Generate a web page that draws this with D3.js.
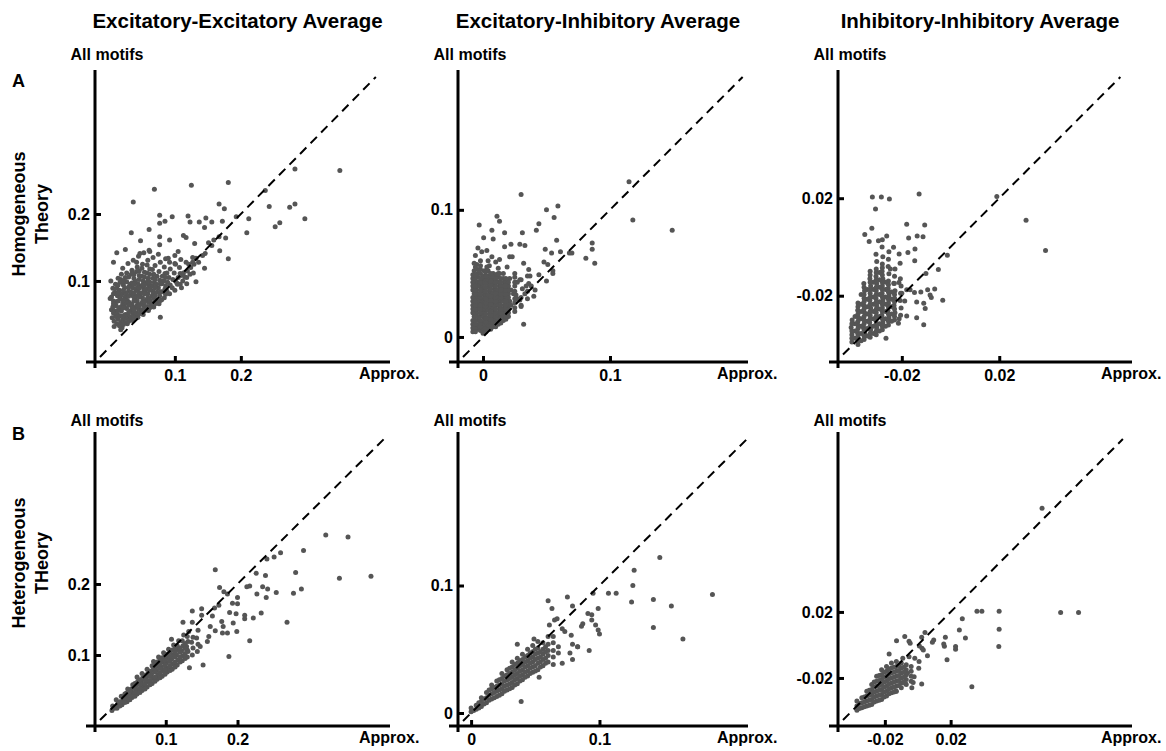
<!DOCTYPE html>
<html>
<head>
<meta charset="utf-8">
<script src="https://cdn.jsdelivr.net/npm/d3@7"></script>
<style>
  body { margin: 0; background: #fff; }
  svg text { font-family: Arial, "Liberation Sans", Helvetica, sans-serif; font-weight: bold; fill: #000; }
</style>
</head>
<body>
<svg id="chart" width="1166" height="751"></svg>
<script>

/*** data: [approx., all motifs] pairs ***/

var columnTitles = ['Excitatory-Excitatory Average', 'Excitatory-Inhibitory Average', 'Inhibitory-Inhibitory Average'];
var rowLetters = ['A', 'B'];
var rowTitles = [['Homogeneous', 'Theory'], ['Heterogeneous', 'THeory']];
var xLabel = 'Approx.';
var yLabel = 'All motifs';

// tick values, one set per column (same on both axes)
var eeTicks = [0.1, 0.2];
var eiTicks = [0, 0.1];
var iiTicks = [-0.02, 0.02];

// axis extents per panel
var eeHomXDomain = [-0.021, 0.426], eeHomYDomain = [-0.021, 0.415];
var eiHomXDomain = [-0.0197, 0.2087], eiHomYDomain = [-0.0197, 0.21];
var iiHomXDomain = [-0.0462, 0.0745], iiHomYDomain = [-0.0472, 0.0726];
var eeHetXDomain = [0.0014, 0.4125], eeHetYDomain = [0, 0.414];
var eiHetXDomain = [-0.0102, 0.2157], eiHetYDomain = [-0.0102, 0.2204];
var iiHetXDomain = [-0.0485, 0.1303], iiHetYDomain = [-0.0491, 0.129];

var eeHomogeneous = [
  [0.350,0.265],[0.282,0.267],[0.181,0.247],[0.125,0.243],[0.069,0.237],[0.037,0.218],[0.237,0.235],[0.243,0.211],
  [0.274,0.210],[0.282,0.215],[0.297,0.193],[0.252,0.181],[0.259,0.187],[0.209,0.172],[0.212,0.193],[0.193,0.196],
  [0.167,0.215],[0.175,0.208],[0.172,0.189],[0.181,0.133],[0.168,0.145],[0.177,0.164],[0.167,0.166],[0.156,0.188],
  [0.147,0.194],[0.137,0.188],[0.145,0.180],[0.120,0.197],[0.123,0.188],[0.096,0.196],[0.077,0.198],[0.085,0.189],
  [0.077,0.186],[0.061,0.177],[0.034,0.172],[0.048,0.160],[0.077,0.166],[0.092,0.161],[0.113,0.168],[0.117,0.165],
  [0.130,0.156],[0.151,0.157],[0.159,0.161],[0.156,0.153],[0.146,0.141],[0.142,0.138],[0.136,0.128],[0.145,0.119],
  [0.132,0.134],[0.127,0.128],[0.121,0.125],[0.132,0.099],[0.118,0.096],[0.110,0.090],[0.103,0.097],[0.078,0.046],
  [0.012,0.142],[0.025,0.147],[0.007,0.128],[0.003,0.100],[0.002,0.074],[0.004,0.057],[0.008,0.032],[0.018,0.027],
  [0.105,0.144],[0.077,0.154],[0.062,0.144],[0.047,0.141],[0.090,0.134],[0.100,0.126],[0.108,0.111],[0.115,0.106],
  [0.005,0.045],[0.006,0.061],[0.004,0.076],[0.006,0.089],
  [0.012,0.036],[0.013,0.050],[0.011,0.063],[0.013,0.078],[0.012,0.089],[0.014,0.104],
  [0.020,0.030],[0.021,0.043],[0.019,0.055],[0.021,0.067],[0.020,0.081],[0.022,0.094],[0.019,0.110],[0.021,0.119],
  [0.028,0.036],[0.029,0.048],[0.027,0.059],[0.028,0.071],[0.030,0.085],[0.027,0.099],[0.029,0.126],
  [0.036,0.041],[0.037,0.052],[0.035,0.065],[0.037,0.077],[0.036,0.090],[0.038,0.104],[0.035,0.116],[0.037,0.131],
  [0.044,0.046],[0.045,0.058],[0.043,0.070],[0.045,0.083],[0.044,0.096],[0.046,0.108],[0.043,0.121],[0.045,0.137],
  [0.052,0.050],[0.053,0.063],[0.051,0.075],[0.053,0.088],[0.052,0.100],[0.054,0.113],[0.051,0.125],[0.053,0.142],
  [0.060,0.056],[0.061,0.068],[0.059,0.081],[0.061,0.093],[0.060,0.104],[0.062,0.118],[0.059,0.131],[0.061,0.146],
  [0.068,0.061],[0.069,0.073],[0.067,0.085],[0.069,0.098],[0.068,0.110],[0.070,0.123],[0.067,0.135],
  [0.076,0.066],[0.077,0.078],[0.075,0.090],[0.077,0.101],[0.076,0.114],[0.078,0.128],[0.075,0.140],
  [0.084,0.075],[0.085,0.088],[0.083,0.100],[0.085,0.111],[0.084,0.121],[0.086,0.133],
  [0.092,0.081],[0.093,0.094],[0.091,0.105],[0.093,0.118],[0.092,0.128],
  [0.100,0.086],[0.101,0.100],[0.099,0.112],[0.101,0.125],[0.100,0.138],
  [0.108,0.095],[0.109,0.108],[0.107,0.120],[0.109,0.132],
  [0.118,0.105],[0.119,0.115],[0.117,0.128],
  [0.128,0.112],[0.129,0.125],[0.127,0.135],
  [0.008,0.040],[0.009,0.055],[0.007,0.070],[0.009,0.083],
  [0.016,0.033],[0.017,0.048],[0.015,0.060],[0.017,0.073],[0.016,0.086],[0.017,0.098],
  [0.024,0.038],[0.025,0.050],[0.023,0.063],[0.025,0.076],[0.024,0.090],[0.025,0.105],
  [0.032,0.042],[0.033,0.055],[0.031,0.068],[0.033,0.081],[0.032,0.095],
  [0.040,0.048],[0.041,0.061],[0.039,0.074],[0.041,0.087],[0.040,0.100],
  [0.048,0.053],[0.049,0.066],[0.047,0.079],[0.049,0.092],
  [0.056,0.059],[0.057,0.072],[0.055,0.085],[0.057,0.097],
  [0.064,0.064],[0.065,0.077],[0.063,0.090],
  [0.010,0.047],[0.011,0.069],[0.010,0.095],[0.018,0.038],[0.019,0.062],[0.018,0.078],[0.018,0.102],[0.026,0.044],
  [0.027,0.067],[0.026,0.082],[0.027,0.112],[0.034,0.047],[0.035,0.060],[0.034,0.083],[0.035,0.097],[0.034,0.110],
  [0.042,0.052],[0.043,0.064],[0.042,0.077],[0.043,0.090],[0.042,0.114],[0.042,0.128],[0.050,0.057],[0.051,0.069],
  [0.050,0.082],[0.051,0.094],[0.050,0.107],[0.050,0.119],[0.058,0.062],[0.059,0.075],[0.058,0.088],[0.059,0.100],
  [0.058,0.112],[0.058,0.124],[0.066,0.067],[0.067,0.080],[0.066,0.093],[0.067,0.104],[0.066,0.117],[0.072,0.070],
  [0.073,0.083],[0.072,0.095],[0.073,0.107],[0.080,0.072],[0.081,0.084],[0.080,0.096],[0.081,0.107],[0.088,0.085],
  [0.089,0.098],[0.088,0.112],[0.096,0.090],[0.097,0.102],[0.104,0.095],[0.105,0.105],[0.112,0.100],[0.113,0.112],
  [0.123,0.110],[0.124,0.120],
  [0.007,0.052],[0.007,0.066],[0.007,0.081],[0.014,0.043],[0.014,0.056],[0.014,0.070],[0.014,0.082],[0.014,0.094],
  [0.022,0.035],[0.022,0.048],[0.022,0.060],[0.022,0.072],[0.022,0.086],[0.022,0.100],[0.030,0.040],[0.030,0.053],
  [0.030,0.064],[0.030,0.077],[0.030,0.091],[0.030,0.106],[0.038,0.045],[0.038,0.057],[0.038,0.070],[0.038,0.082],
  [0.038,0.095],[0.038,0.110],[0.046,0.051],[0.046,0.063],[0.046,0.076],[0.046,0.089],[0.046,0.102],[0.046,0.115],
  [0.054,0.056],[0.054,0.068],[0.054,0.081],[0.054,0.094],[0.054,0.106],[0.062,0.060],[0.062,0.072],[0.062,0.086],
  [0.062,0.098],[0.062,0.110],[0.070,0.066],[0.070,0.078],[0.070,0.090],[0.070,0.103],[0.078,0.071],[0.078,0.084],
  [0.078,0.096],[0.086,0.080],[0.086,0.093],[0.086,0.105]
];

var eiHomogeneous = [
  [0.149,0.084],[0.118,0.092],[0.115,0.122],[0.030,0.112],[0.059,0.103],[0.050,0.100],[0.056,0.094],[0.044,0.089],
  [0.042,0.084],[0.031,0.082],[0.017,0.082],[0.011,0.095],[0.013,0.091],[0.007,0.084],[-0.003,0.088],[0.0005,0.078],
  [0.008,0.077],[0.022,0.073],[0.029,0.073],[0.033,0.072],[0.058,0.076],[0.049,0.069],[0.054,0.066],[0.061,0.067],
  [0.068,0.066],[0.070,0.066],[0.086,0.074],[0.086,0.069],[0.088,0.058],[0.081,0.062],[0.017,0.071],[0.021,0.063],
  [0.023,0.063],[-0.001,0.067],[0.003,0.068],[-0.006,0.064],[0.010,0.059],[0.048,0.059],[0.051,0.057],[0.055,0.052],
  [0.055,0.050],[0.044,0.049],[0.036,0.053],[0.050,0.044],[0.040,0.032],[0.030,0.024],[0.032,0.010],[-0.004,0.070],
  [0.019,0.055],[0.025,0.050],[0.029,0.045],[0.037,0.048],[0.034,0.040],[0.041,0.037],[0.024,0.034],[0.019,0.029],
  [0.029,0.029],[0.013,0.050],[0.003,0.055],[0.007,0.063],[0.013,0.061],[0.032,0.058],
  [-0.008,0.004],[-0.008,0.010],[-0.007,0.016],[-0.008,0.022],[-0.008,0.028],[-0.007,0.034],[-0.008,0.040],[-0.008,0.046],
  [-0.004,0.006],[-0.004,0.013],[-0.005,0.019],[-0.004,0.025],[-0.004,0.031],[-0.005,0.037],[-0.004,0.043],[-0.004,0.050],[-0.005,0.057],
  [0.000,0.003],[0.000,0.009],[0.001,0.015],[0.000,0.021],[0.000,0.027],[0.001,0.033],[0.000,0.039],[0.000,0.045],[0.001,0.052],
  [0.004,0.006],[0.004,0.012],[0.005,0.018],[0.004,0.024],[0.004,0.030],[0.005,0.036],[0.004,0.042],[0.004,0.048],[0.005,0.056],
  [0.008,0.008],[0.008,0.014],[0.009,0.020],[0.008,0.026],[0.008,0.032],[0.009,0.038],[0.008,0.044],[0.008,0.050],
  [0.012,0.010],[0.012,0.016],[0.013,0.022],[0.012,0.028],[0.012,0.034],[0.013,0.040],[0.012,0.047],[0.012,0.054],
  [0.016,0.013],[0.016,0.019],[0.017,0.025],[0.016,0.031],[0.016,0.037],[0.017,0.043],[0.016,0.050],
  [0.020,0.016],[0.020,0.022],[0.021,0.028],[0.020,0.034],[0.020,0.040],[0.021,0.046],
  [0.025,0.020],[0.025,0.027],[0.026,0.033],[0.025,0.040],[0.025,0.047],
  [0.030,0.025],[0.030,0.031],[0.031,0.038],[0.030,0.045],
  [0.035,0.030],[0.035,0.036],[0.036,0.042],[0.035,0.048],
  [-0.006,0.007],[-0.006,0.019],[-0.006,0.031],[-0.006,0.043],[-0.002,0.005],[-0.002,0.016],[-0.002,0.028],[-0.002,0.040],
  [-0.002,0.050],[0.002,0.009],[0.002,0.021],[0.002,0.033],[0.002,0.045],[0.006,0.011],[0.006,0.023],[0.006,0.035],
  [0.006,0.047],[0.010,0.013],[0.010,0.025],[0.010,0.037],[0.010,0.049],[0.014,0.016],[0.014,0.028],[0.014,0.040],
  [0.018,0.019],[0.018,0.031],[0.018,0.043],[0.022,0.025],[0.022,0.037],[0.027,0.030],[0.027,0.043],[0.033,0.034],
  [0.038,0.040],[-0.007,0.052],[-0.007,0.058],[-0.002,0.060],[0.004,0.060],
  [-0.008,0.007],[-0.008,0.013],[-0.008,0.019],[-0.008,0.025],[-0.008,0.031],[-0.008,0.037],[-0.008,0.043],[-0.008,0.049],
  [-0.004,0.0095],[-0.004,0.016],[-0.004,0.022],[-0.004,0.028],[-0.004,0.034],[-0.004,0.040],[-0.004,0.047],[-0.004,0.053],
  [0.000,0.006],[0.000,0.012],[0.000,0.018],[0.000,0.024],[0.000,0.030],[0.000,0.036],[0.000,0.042],[0.000,0.048],
  [0.004,0.009],[0.004,0.015],[0.004,0.021],[0.004,0.027],[0.004,0.033],[0.004,0.039],[0.004,0.045],[0.004,0.052],
  [0.008,0.011],[0.008,0.017],[0.008,0.023],[0.008,0.029],[0.008,0.035],[0.008,0.041],[0.008,0.047],
  [0.012,0.013],[0.012,0.019],[0.012,0.025],[0.012,0.031],[0.012,0.037],[0.012,0.043],[0.012,0.050],
  [0.016,0.016],[0.016,0.022],[0.016,0.028],[0.016,0.034],[0.016,0.040],[0.016,0.046],
  [0.020,0.019],[0.020,0.025],[0.020,0.031],[0.020,0.037],[0.020,0.043],
  [0.025,0.023],[0.025,0.030],[0.025,0.036],[0.025,0.043],
  [-0.006,0.004],[-0.006,0.010],[-0.006,0.013],[-0.006,0.016],[-0.006,0.022],[-0.006,0.025],[-0.006,0.028],[-0.006,0.034],
  [-0.006,0.037],[-0.006,0.040],[-0.006,0.046],[-0.006,0.049],[-0.006,0.055],
  [-0.002,0.008],[-0.002,0.011],[-0.002,0.013],[-0.002,0.019],[-0.002,0.022],[-0.002,0.025],[-0.002,0.031],[-0.002,0.034],
  [-0.002,0.037],[-0.002,0.043],[-0.002,0.046],[-0.002,0.053],[-0.002,0.056],
  [0.002,0.004],[0.002,0.006],[0.002,0.012],[0.002,0.015],[0.002,0.018],[0.002,0.024],[0.002,0.027],[0.002,0.030],
  [0.002,0.036],[0.002,0.039],[0.002,0.042],[0.002,0.048],[0.002,0.051],
  [0.006,0.006],[0.006,0.008],[0.006,0.014],[0.006,0.017],[0.006,0.020],[0.006,0.026],[0.006,0.029],[0.006,0.032],
  [0.006,0.038],[0.006,0.041],[0.006,0.044],[0.006,0.050],
  [0.010,0.008],[0.010,0.010],[0.010,0.016],[0.010,0.019],[0.010,0.022],[0.010,0.028],[0.010,0.031],[0.010,0.034],
  [0.010,0.040],[0.010,0.043],[0.010,0.046],
  [0.014,0.011],[0.014,0.013],[0.014,0.019],[0.014,0.022],[0.014,0.025],[0.014,0.031],[0.014,0.034],[0.014,0.037],
  [0.014,0.043],[0.014,0.046],
  [0.018,0.014],[0.018,0.016],[0.018,0.022],[0.018,0.025],[0.018,0.028],[0.018,0.034],[0.018,0.037],[0.018,0.040],
  [0.018,0.046]
];

var iiHomogeneous = [
  [0.039,-0.0015],[0.031,0.011],[0.019,0.0207],[-0.0129,0.0217],[-0.0321,0.0205],[-0.0284,0.0205],[-0.0251,0.0197],
  [-0.0308,0.0156],[-0.018,0.0093],[-0.0106,0.009],[-0.0323,0.0077],[-0.0352,0.0051],[-0.0262,0.0045],[-0.0172,0.0037],
  [-0.0137,0.0045],[-0.0113,0.0042],[-0.0334,0.0022],[-0.0296,0.0025],[-0.0234,-0.0001],[-0.0146,-0.0008],[-0.0211,-0.0029],
  [-0.0175,-0.0023],[-0.0147,-0.0057],[-0.0207,-0.0067],[-0.0247,-0.009],[-0.005,-0.0092],[-0.0013,-0.0034],[-0.0101,-0.0109],
  [-0.0233,-0.0149],[-0.0212,-0.0146],[-0.018,-0.0176],[-0.0166,-0.0176],[-0.0148,-0.0187],[-0.0139,-0.0226],[-0.0122,-0.0185],
  [-0.0094,-0.0176],[-0.0065,-0.0172],[-0.0079,-0.0207],[-0.011,-0.0231],[-0.0104,-0.0252],[-0.0032,-0.0219],[-0.0084,-0.0197],
  [-0.018,-0.0283],[-0.0139,-0.029],[-0.011,-0.0319],[-0.0211,-0.0295],[-0.0214,-0.0313],[-0.0265,-0.0375],[-0.0188,-0.0222],
  [-0.0231,-0.0215],[-0.02,-0.019],
  [-0.0405,-0.039],[-0.0405,-0.036],[-0.0408,-0.033],[-0.0404,-0.030],
  [-0.038,-0.040],[-0.0378,-0.0375],[-0.0382,-0.035],[-0.038,-0.032],[-0.0378,-0.029],[-0.0381,-0.026],[-0.038,-0.023],
  [-0.0355,-0.038],[-0.0353,-0.0355],[-0.0357,-0.033],[-0.0355,-0.030],[-0.0353,-0.027],[-0.0356,-0.024],[-0.0355,-0.021],[-0.0353,-0.018],[-0.0356,-0.015],
  [-0.033,-0.037],[-0.0328,-0.034],[-0.0332,-0.031],[-0.033,-0.028],[-0.0328,-0.025],[-0.0331,-0.022],[-0.033,-0.019],[-0.0328,-0.016],[-0.0331,-0.013],[-0.033,-0.010],
  [-0.0305,-0.036],[-0.0303,-0.033],[-0.0307,-0.030],[-0.0305,-0.027],[-0.0303,-0.024],[-0.0306,-0.021],[-0.0305,-0.018],[-0.0303,-0.015],[-0.0306,-0.012],[-0.0305,-0.009],[-0.0303,-0.006],[-0.0306,-0.003],
  [-0.028,-0.034],[-0.0278,-0.031],[-0.0282,-0.028],[-0.028,-0.025],[-0.0278,-0.022],[-0.0281,-0.019],[-0.028,-0.016],[-0.0278,-0.013],[-0.0281,-0.010],[-0.028,-0.007],[-0.0278,-0.004],[-0.0281,0.000],[-0.028,0.003],
  [-0.0255,-0.032],[-0.0253,-0.029],[-0.0257,-0.026],[-0.0255,-0.023],[-0.0253,-0.020],[-0.0256,-0.017],[-0.0255,-0.014],[-0.0253,-0.011],[-0.0256,-0.008],[-0.0255,-0.005],[-0.0253,-0.002],
  [-0.023,-0.030],[-0.0228,-0.027],[-0.0232,-0.024],[-0.023,-0.021],[-0.0228,-0.018],[-0.0231,-0.015],[-0.023,-0.012],[-0.0228,-0.009],
  [-0.0205,-0.028],[-0.0203,-0.025],[-0.0207,-0.022],[-0.0205,-0.019],[-0.0203,-0.016],[-0.0206,-0.013],
  [-0.0392,-0.0375],[-0.0392,-0.0345],[-0.0392,-0.0315],[-0.0392,-0.0285],[-0.0367,-0.0385],[-0.0367,-0.0355],[-0.0367,-0.0325],
  [-0.0367,-0.0295],[-0.0367,-0.0265],[-0.0367,-0.0235],[-0.0367,-0.0195],[-0.0342,-0.0365],[-0.0342,-0.0335],[-0.0342,-0.0305],
  [-0.0342,-0.0275],[-0.0342,-0.0245],[-0.0342,-0.0215],[-0.0342,-0.0175],[-0.0317,-0.0355],[-0.0317,-0.0325],[-0.0317,-0.0295],
  [-0.0317,-0.0265],[-0.0317,-0.0235],[-0.0317,-0.0205],[-0.0317,-0.0175],[-0.0317,-0.0145],[-0.0292,-0.0345],[-0.0292,-0.0315],
  [-0.0292,-0.0285],[-0.0292,-0.0255],[-0.0292,-0.0225],[-0.0292,-0.0195],[-0.0292,-0.0165],[-0.0292,-0.0135],[-0.0292,-0.0105],
  [-0.0267,-0.0325],[-0.0267,-0.0295],[-0.0267,-0.0265],[-0.0267,-0.0235],[-0.0267,-0.0205],[-0.0267,-0.0175],[-0.0267,-0.0145],
  [-0.0242,-0.0305],[-0.0242,-0.0275],[-0.0242,-0.0245],[-0.0242,-0.0215],[-0.0242,-0.0185],
  [-0.0405,-0.0375],[-0.0405,-0.0345],[-0.0405,-0.0315],
  [-0.038,-0.0385],[-0.038,-0.036],[-0.038,-0.0335],[-0.038,-0.0305],[-0.038,-0.0275],[-0.038,-0.0245],
  [-0.0355,-0.0365],[-0.0355,-0.034],[-0.0355,-0.0315],[-0.0355,-0.0285],[-0.0355,-0.0255],[-0.0355,-0.0225],[-0.0355,-0.0195],[-0.0355,-0.0165],
  [-0.033,-0.0355],[-0.033,-0.0325],[-0.033,-0.0295],[-0.033,-0.0265],[-0.033,-0.0235],[-0.033,-0.0205],[-0.033,-0.0175],[-0.033,-0.0145],[-0.033,-0.0115],
  [-0.0305,-0.0345],[-0.0305,-0.0315],[-0.0305,-0.0285],[-0.0305,-0.0255],[-0.0305,-0.0225],[-0.0305,-0.0195],[-0.0305,-0.0165],[-0.0305,-0.0135],[-0.0305,-0.0105],
  [-0.028,-0.0325],[-0.028,-0.0295],[-0.028,-0.0265],[-0.028,-0.0235],[-0.028,-0.0205],[-0.028,-0.0175],[-0.028,-0.0145],[-0.028,-0.0115],[-0.028,-0.0085],
  [-0.0255,-0.0305],[-0.0255,-0.0275],[-0.0255,-0.0245],[-0.0255,-0.0215],[-0.0255,-0.0185],[-0.0255,-0.0155],
  [-0.023,-0.0285],[-0.023,-0.0255],[-0.023,-0.0225],[-0.023,-0.0195]
];

var eeHeterogeneous = [
  [0.386,0.211],[0.342,0.208],[0.354,0.266],[0.323,0.269],[0.292,0.247],[0.281,0.216],[0.289,0.193],[0.278,0.187],
  [0.269,0.146],[0.260,0.244],[0.251,0.238],[0.241,0.235],[0.226,0.215],[0.239,0.212],[0.235,0.196],[0.242,0.193],
  [0.240,0.181],[0.254,0.188],[0.227,0.186],[0.233,0.159],[0.222,0.152],[0.217,0.120],[0.217,0.197],[0.213,0.196],
  [0.200,0.181],[0.200,0.172],[0.199,0.133],[0.210,0.151],[0.210,0.156],[0.188,0.098],[0.169,0.220],[0.175,0.195],
  [0.181,0.189],[0.186,0.186],[0.193,0.173],[0.189,0.160],[0.198,0.158],[0.194,0.145],[0.186,0.131],[0.179,0.131],
  [0.168,0.166],[0.165,0.155],[0.174,0.170],[0.178,0.147],[0.180,0.140],[0.169,0.134],[0.150,0.165],[0.150,0.156],
  [0.162,0.140],[0.160,0.126],[0.137,0.162],[0.124,0.146],[0.137,0.146],[0.152,0.086],[0.133,0.082],[0.130,0.107],
  [0.148,0.112],[0.158,0.119],
  [0.025,0.022],[0.026,0.028],[0.028,0.025],[0.035,0.032],[0.042,0.041],
  [0.032,0.025],[0.033,0.031],[0.031,0.037],
  [0.039,0.030],[0.040,0.036],[0.038,0.042],
  [0.046,0.034],[0.047,0.040],[0.045,0.046],[0.047,0.052],
  [0.053,0.040],[0.054,0.046],[0.052,0.052],[0.054,0.058],
  [0.060,0.045],[0.061,0.051],[0.059,0.057],[0.061,0.063],[0.060,0.069],
  [0.067,0.050],[0.068,0.056],[0.066,0.062],[0.068,0.068],[0.067,0.074],
  [0.074,0.055],[0.075,0.062],[0.073,0.068],[0.075,0.074],[0.074,0.080],
  [0.081,0.060],[0.082,0.067],[0.080,0.073],[0.082,0.079],[0.081,0.085],[0.083,0.091],
  [0.088,0.066],[0.089,0.072],[0.087,0.078],[0.089,0.084],[0.088,0.090],[0.090,0.097],
  [0.095,0.070],[0.096,0.077],[0.094,0.083],[0.096,0.090],[0.095,0.096],[0.097,0.103],
  [0.102,0.076],[0.103,0.082],[0.101,0.089],[0.103,0.095],[0.102,0.101],[0.104,0.108],
  [0.109,0.080],[0.110,0.087],[0.108,0.094],[0.110,0.100],[0.109,0.107],[0.111,0.114],[0.108,0.122],
  [0.116,0.086],[0.117,0.093],[0.115,0.100],[0.117,0.107],[0.116,0.113],[0.118,0.120],
  [0.123,0.092],[0.124,0.099],[0.122,0.106],[0.124,0.113],[0.123,0.120],[0.125,0.128],
  [0.130,0.097],[0.131,0.105],[0.129,0.112],[0.131,0.119],[0.130,0.126],[0.132,0.133],
  [0.137,0.100],[0.138,0.110],[0.136,0.118],[0.138,0.125],
  [0.144,0.105],[0.145,0.115],[0.143,0.124],[0.145,0.135],
  [0.036,0.028],[0.036,0.034],[0.043,0.033],[0.043,0.039],[0.043,0.045],[0.050,0.037],[0.050,0.043],[0.050,0.049],
  [0.057,0.042],[0.057,0.048],[0.057,0.054],[0.057,0.060],[0.064,0.047],[0.064,0.053],[0.064,0.059],[0.064,0.065],
  [0.071,0.052],[0.071,0.059],[0.071,0.065],[0.071,0.071],[0.078,0.058],[0.078,0.064],[0.078,0.070],[0.078,0.077],
  [0.085,0.063],[0.085,0.069],[0.085,0.076],[0.085,0.082],[0.085,0.088],[0.092,0.068],[0.092,0.075],[0.092,0.081],
  [0.092,0.087],[0.092,0.093],[0.099,0.073],[0.099,0.080],[0.099,0.086],[0.099,0.093],[0.099,0.099],[0.106,0.078],
  [0.106,0.085],[0.106,0.091],[0.106,0.098],[0.106,0.104],[0.113,0.083],[0.113,0.090],[0.113,0.097],[0.113,0.104],
  [0.113,0.110],[0.120,0.090],[0.120,0.097],[0.120,0.104],[0.120,0.110],[0.127,0.095],[0.127,0.102],[0.127,0.109],
  [0.127,0.116]
];

var eiHeterogeneous = [
  [0.188,0.093],[0.165,0.058],[0.156,0.084],[0.142,0.089],[0.142,0.067],[0.147,0.122],[0.127,0.112],[0.126,0.100],
  [0.125,0.087],[0.113,0.094],[0.107,0.094],[0.095,0.094],[0.099,0.082],[0.094,0.077],[0.091,0.078],[0.094,0.073],
  [0.097,0.069],[0.100,0.062],[0.099,0.065],[0.092,0.049],[0.087,0.070],[0.086,0.068],[0.083,0.052],[0.075,0.091],
  [0.079,0.084],[0.060,0.088],[0.063,0.082],[0.065,0.073],[0.067,0.074],[0.078,0.061],[0.079,0.054],[0.077,0.047],
  [0.083,0.052],[0.079,0.042],[0.071,0.039],[0.073,0.064],[0.036,0.054],[0.039,0.009],[0.053,0.028],[0.049,0.058],
  [0.061,0.069],[0.071,0.066],
  [0.000,0.001],[0.000,0.004],
  [0.004,0.003],[0.004,0.006],
  [0.008,0.005],[0.008,0.009],[0.008,0.012],
  [0.012,0.008],[0.012,0.012],[0.012,0.016],
  [0.016,0.011],[0.016,0.015],[0.016,0.019],[0.016,0.022],
  [0.020,0.013],[0.020,0.017],[0.020,0.021],[0.020,0.025],
  [0.024,0.015],[0.024,0.019],[0.024,0.023],[0.024,0.027],[0.024,0.031],
  [0.028,0.018],[0.028,0.022],[0.028,0.026],[0.028,0.030],[0.028,0.034],
  [0.032,0.020],[0.032,0.024],[0.032,0.028],[0.032,0.032],[0.032,0.036],[0.032,0.040],
  [0.036,0.023],[0.036,0.027],[0.036,0.031],[0.036,0.035],[0.036,0.039],[0.036,0.043],
  [0.040,0.026],[0.040,0.030],[0.040,0.034],[0.040,0.038],[0.040,0.042],[0.040,0.046],
  [0.044,0.029],[0.044,0.033],[0.044,0.037],[0.044,0.041],[0.044,0.045],[0.044,0.050],
  [0.048,0.032],[0.048,0.036],[0.048,0.040],[0.048,0.044],[0.048,0.048],[0.048,0.053],
  [0.052,0.034],[0.052,0.039],[0.052,0.043],[0.052,0.047],[0.052,0.051],[0.052,0.056],
  [0.056,0.037],[0.056,0.042],[0.056,0.046],[0.056,0.050],[0.056,0.055],
  [0.060,0.040],[0.060,0.045],[0.060,0.049],[0.060,0.054],[0.060,0.060],
  [0.064,0.038],[0.064,0.044],[0.064,0.049],[0.064,0.055],[0.064,0.060],
  [0.068,0.047],[0.068,0.052],
  [0.002,0.002],[0.006,0.004],[0.006,0.008],[0.010,0.007],[0.010,0.011],[0.014,0.010],[0.014,0.014],[0.014,0.018],
  [0.018,0.012],[0.018,0.016],[0.018,0.020],[0.022,0.014],[0.022,0.018],[0.022,0.022],[0.022,0.026],[0.026,0.017],
  [0.026,0.021],[0.026,0.025],[0.026,0.029],[0.030,0.019],[0.030,0.023],[0.030,0.027],[0.030,0.031],[0.030,0.035],
  [0.034,0.022],[0.034,0.026],[0.034,0.030],[0.034,0.034],[0.034,0.038],[0.038,0.025],[0.038,0.029],[0.038,0.033],
  [0.038,0.037],[0.038,0.041],[0.042,0.028],[0.042,0.032],[0.042,0.036],[0.042,0.040],[0.042,0.044],[0.046,0.031],
  [0.046,0.035],[0.046,0.039],[0.046,0.043],[0.046,0.047],[0.050,0.033],[0.050,0.037],[0.050,0.042],[0.050,0.046],
  [0.050,0.050],[0.054,0.036],[0.054,0.040],[0.054,0.044],[0.054,0.048],[0.058,0.039],[0.058,0.043],[0.058,0.048],
  [0.058,0.052]
];

var iiHeterogeneous = [
  [0.0756,0.0828],[0.0978,0.0196],[0.0869,0.0196],[0.0495,0.0204],[0.0495,0.0095],[0.0493,-0.001],[0.039,0.0204],
  [0.036,0.0204],[0.0329,-0.0253],[0.0271,0.0158],[0.0253,0.0091],[0.029,0.0042],[0.023,-0.001],[0.023,-0.0026],
  [0.0178,-0.0089],[0.0168,0.0046],[0.0162,-0.0008],[0.0158,0.0006],[0.0097,0.003],[0.0089,0.0016],[0.0044,0.0075],
  [0.0024,0.0046],[0.0059,-0.0065],[0.001,-0.0006],[0.0026,-0.002],[0.0034,-0.003],[-0.0079,0.0051],[-0.0053,0.0022],
  [-0.0046,0.001],[-0.0129,0.0026],[-0.0174,-0.0055],[-0.0133,-0.0281],[0.0024,-0.0236],[-0.0028,-0.0228],[-0.0036,-0.0259],
  [-0.0022,-0.0192],[-0.0063,-0.0172],[-0.0075,-0.0234],[0.0006,-0.0141],[-0.0018,-0.0081],[0.0008,-0.0101],
  [-0.0053,-0.0071],[-0.0091,-0.0081],
  [-0.037,-0.0395],[-0.037,-0.037],[-0.037,-0.034],
  [-0.034,-0.038],[-0.034,-0.035],[-0.034,-0.032],
  [-0.031,-0.037],[-0.031,-0.034],[-0.031,-0.031],[-0.031,-0.028],
  [-0.028,-0.036],[-0.028,-0.033],[-0.028,-0.030],[-0.028,-0.027],[-0.028,-0.024],
  [-0.025,-0.034],[-0.025,-0.031],[-0.025,-0.028],[-0.025,-0.025],[-0.025,-0.022],[-0.025,-0.019],
  [-0.022,-0.033],[-0.022,-0.030],[-0.022,-0.027],[-0.022,-0.024],[-0.022,-0.021],[-0.022,-0.018],[-0.022,-0.015],
  [-0.019,-0.031],[-0.019,-0.028],[-0.019,-0.025],[-0.019,-0.022],[-0.019,-0.019],[-0.019,-0.016],[-0.019,-0.013],
  [-0.016,-0.029],[-0.016,-0.026],[-0.016,-0.023],[-0.016,-0.020],[-0.016,-0.017],[-0.016,-0.014],[-0.016,-0.011],
  [-0.013,-0.028],[-0.013,-0.025],[-0.013,-0.022],[-0.013,-0.019],[-0.013,-0.016],[-0.013,-0.013],[-0.013,-0.010],
  [-0.010,-0.026],[-0.010,-0.023],[-0.010,-0.020],[-0.010,-0.017],[-0.010,-0.014],[-0.010,-0.011],
  [-0.007,-0.024],[-0.007,-0.021],[-0.007,-0.018],[-0.007,-0.015],[-0.007,-0.012],
  [-0.004,-0.022],[-0.004,-0.019],[-0.004,-0.016],[-0.004,-0.013],
  [-0.0355,-0.0385],[-0.0355,-0.0355],[-0.0325,-0.0375],[-0.0325,-0.0345],[-0.0325,-0.0315],[-0.0295,-0.0365],
  [-0.0295,-0.0335],[-0.0295,-0.0305],[-0.0295,-0.0275],[-0.0265,-0.0345],[-0.0265,-0.0315],[-0.0265,-0.0285],
  [-0.0265,-0.0255],[-0.0265,-0.0225],[-0.0235,-0.0335],[-0.0235,-0.0305],[-0.0235,-0.0275],[-0.0235,-0.0245],
  [-0.0235,-0.0215],[-0.0235,-0.0185],[-0.0205,-0.0315],[-0.0205,-0.0285],[-0.0205,-0.0255],[-0.0205,-0.0225],
  [-0.0205,-0.0195],[-0.0205,-0.0165],[-0.0175,-0.0295],[-0.0175,-0.0265],[-0.0175,-0.0235],[-0.0175,-0.0205],
  [-0.0175,-0.0175],[-0.0175,-0.0145],[-0.0145,-0.0285],[-0.0145,-0.0255],[-0.0145,-0.0225],[-0.0145,-0.0195],
  [-0.0145,-0.0165],[-0.0145,-0.0135],[-0.0115,-0.0245],[-0.0115,-0.0215],[-0.0115,-0.0185],[-0.0115,-0.0155],
  [-0.0115,-0.0125],[-0.0085,-0.0225],[-0.0085,-0.0195],[-0.0085,-0.0165],[-0.0085,-0.0135]
];

/*** layout (pixels) ***/

var colX = [[95, 390], [458, 748], [838, 1132]]; // y-axis x, right end of x-axis
var rowY = [[362, 70], [726, 432]];              // x-axis y, top of y-axis

var panels = [
  { row: 0, col: 0, data: eeHomogeneous, ticks: eeTicks, xDomain: eeHomXDomain, yDomain: eeHomYDomain },
  { row: 0, col: 1, data: eiHomogeneous, ticks: eiTicks, xDomain: eiHomXDomain, yDomain: eiHomYDomain },
  { row: 0, col: 2, data: iiHomogeneous, ticks: iiTicks, xDomain: iiHomXDomain, yDomain: iiHomYDomain },
  { row: 1, col: 0, data: eeHeterogeneous, ticks: eeTicks, xDomain: eeHetXDomain, yDomain: eeHetYDomain },
  { row: 1, col: 1, data: eiHeterogeneous, ticks: eiTicks, xDomain: eiHetXDomain, yDomain: eiHetYDomain },
  { row: 1, col: 2, data: iiHeterogeneous, ticks: iiTicks, xDomain: iiHetXDomain, yDomain: iiHetYDomain }
];

var svg = d3.select('#chart');

// one scatter panel: axes crossing bottom-left, inward ticks, identity dashed line
function drawPanel(p) {
  var left = colX[p.col][0], right = colX[p.col][1];
  var bottom = rowY[p.row][0], top = rowY[p.row][1];
  var x = d3.scaleLinear().domain(p.xDomain).range([left, right]);
  var y = d3.scaleLinear().domain(p.yDomain).range([bottom, top]);
  var g = svg.append('g');

  g.selectAll('circle')
    .data(p.data)
    .enter().append('circle')
      .attr('cx', function (d) { return x(d[0]); })
      .attr('cy', function (d) { return y(d[1]); })
      .attr('r', 2.5)
      .attr('fill', '#555');

  // identity line
  var s = Math.max(x.invert(left + 5), y.invert(bottom - 5));
  var e = Math.min(p.xDomain[1], y.invert(top + 7));
  g.append('line')
    .attr('x1', x(s)).attr('y1', y(s))
    .attr('x2', x(e)).attr('y2', y(e))
    .attr('stroke', '#000')
    .attr('stroke-width', 2)
    .attr('stroke-dasharray', '9,6');

  // axis lines (they overshoot a little at the corner)
  g.append('line')
    .attr('x1', left - 9).attr('x2', right)
    .attr('y1', bottom).attr('y2', bottom)
    .attr('stroke', '#000').attr('stroke-width', 3);
  g.append('line')
    .attr('x1', left).attr('x2', left)
    .attr('y1', bottom + 6).attr('y2', top)
    .attr('stroke', '#000').attr('stroke-width', 3);

  var xAxis = d3.axisBottom(x).tickValues(p.ticks).tickFormat(String)
    .tickSizeInner(-6).tickSizeOuter(0).tickPadding(8);
  var gx = g.append('g').attr('transform', 'translate(0,' + bottom + ')').call(xAxis);
  gx.select('.domain').remove();
  gx.selectAll('.tick line').attr('stroke-width', 3);
  gx.selectAll('.tick text').style('font-size', '16px');

  var yAxis = d3.axisLeft(y).tickValues(p.ticks).tickFormat(String)
    .tickSizeInner(-6).tickSizeOuter(0).tickPadding(5);
  var gy = g.append('g').attr('transform', 'translate(' + left + ',0)').call(yAxis);
  gy.select('.domain').remove();
  gy.selectAll('.tick line').attr('stroke-width', 3);
  gy.selectAll('.tick text').style('font-size', '16px');

  g.append('text')
    .attr('x', left + 12).attr('y', top - (p.row === 0 ? 10 : 6))
    .attr('text-anchor', 'middle')
    .style('font-size', '16px')
    .text(yLabel);
  g.append('text')
    .attr('x', right - 31).attr('y', bottom + 17)
    .style('font-size', '16px')
    .text(xLabel);
}

panels.forEach(drawPanel);

// column titles
columnTitles.forEach(function (t, i) {
  svg.append('text')
    .attr('x', (colX[i][0] + colX[i][1]) / 2 - 5)
    .attr('y', 28)
    .attr('text-anchor', 'middle')
    .style('font-size', '20.5px')
    .text(t);
});

// row letters and rotated row titles
var letterY = [87, 440];
var rowCenter = [214, 563];
rowLetters.forEach(function (l, i) {
  svg.append('text').attr('x', 12).attr('y', letterY[i]).style('font-size', '18px').text(l);
  rowTitles[i].forEach(function (t, j) {
    svg.append('text')
      .attr('transform', 'translate(' + (25 + j * 23) + ',' + rowCenter[i] + ') rotate(-90)')
      .attr('text-anchor', 'middle')
      .style('font-size', '18px')
      .text(t);
  });
});

</script>
</body>
</html>
